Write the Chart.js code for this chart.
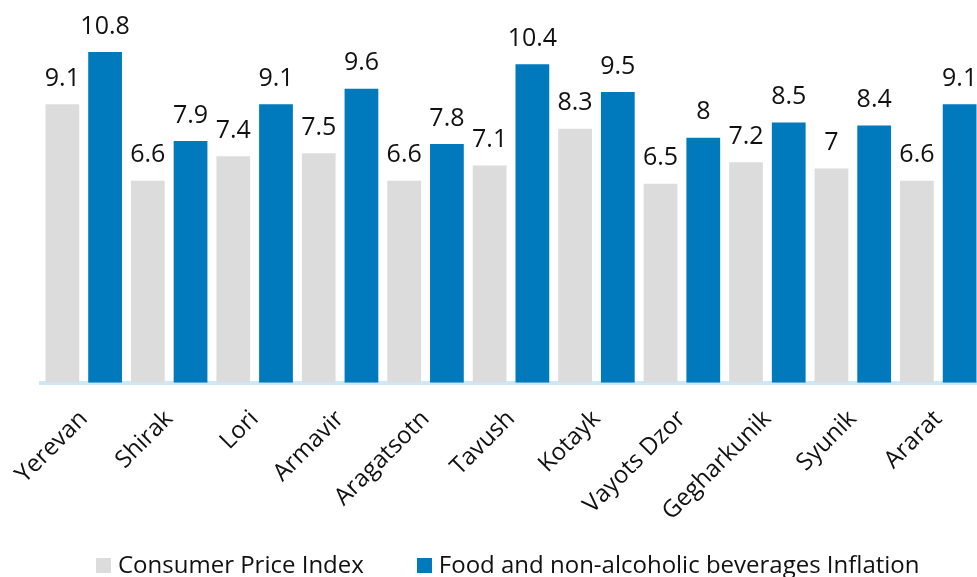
<!DOCTYPE html>
<html>
<head>
<meta charset="utf-8">
<script src="https://cdn.jsdelivr.net/npm/chart.js@4/dist/chart.umd.min.js"></script>
<style>
  html, body { margin: 0; padding: 0; overflow: hidden; background: #ffffff; }
  body { position: relative; width: 977px; height: 577px; }
  #wrap { position: absolute; left: 0; top: 0; width: 1012px; height: 548px; }
  #legenda {
    position: absolute; left: 96px; top: 552px;
    display: flex; align-items: flex-start;
    font: 24px/24px "Open Sans", "DejaVu Sans", sans-serif; color: #111111;
    white-space: nowrap;
  }
  .item { display: flex; align-items: flex-start; margin-right: 53px; }
  .caixa { width: 15px; height: 15px; margin-top: 6px; margin-right: 7px; }
</style>
</head>
<body>
<div id="wrap"><canvas id="grafico"></canvas></div>
<div id="legenda"></div>
<script>
const regioes = ['Yerevan', 'Shirak', 'Lori', 'Armavir', 'Aragatsotn', 'Tavush', 'Kotayk', 'Vayots Dzor', 'Gegharkunik', 'Syunik', 'Ararat'];
const indicePrecos = [9.1, 6.6, 7.4, 7.5, 6.6, 7.1, 8.3, 6.5, 7.2, 7, 6.6];
const inflacaoAlimentos = [10.8, 7.9, 9.1, 9.6, 7.8, 10.4, 9.5, 8, 8.5, 8.4, 9.1];

const fonte = '"Open Sans", "DejaVu Sans", sans-serif';

// desenha o valor acima de cada barra
const rotulosValores = {
  id: 'rotulosValores',
  afterDatasetsDraw(chart) {
    const ctx = chart.ctx;
    ctx.save();
    ctx.font = `25px ${fonte}`;
    ctx.fillStyle = '#111111';
    ctx.textAlign = 'center';
    ctx.textBaseline = 'bottom';
    chart.data.datasets.forEach((dataset, i) => {
      chart.getDatasetMeta(i).data.forEach((barra, j) => {
        ctx.fillText(String(dataset.data[j]), barra.x, barra.y - 13);
      });
    });
    ctx.restore();
  },
};

function montarLegenda(chart) {
  const legenda = document.querySelector('#legenda');
  legenda.innerHTML = '';
  chart.data.datasets.forEach((dataset) => {
    const item = document.createElement('div');
    item.className = 'item';
    const caixa = document.createElement('span');
    caixa.className = 'caixa';
    caixa.style.background = dataset.backgroundColor;
    const texto = document.createElement('span');
    texto.textContent = dataset.label;
    item.appendChild(caixa);
    item.appendChild(texto);
    legenda.appendChild(item);
  });
}

const grafico = new Chart(document.querySelector('#grafico'), {
  type: 'bar',
  data: {
    labels: regioes,
    datasets: [
      {
        label: 'Consumer Price Index',
        data: indicePrecos,
        backgroundColor: '#dcdcdc',
        categoryPercentage: 1,
        barPercentage: 0.79,
      },
      {
        label: 'Food and non-alcoholic beverages Inflation',
        data: inflacaoAlimentos,
        backgroundColor: '#0079bd',
        categoryPercentage: 1,
        barPercentage: 0.79,
      },
    ],
  },
  options: {
    responsive: true,
    maintainAspectRatio: false,
    animation: false,
    layout: {
      padding: { left: 41, right: 31, top: 0, bottom: 0 },
    },
    scales: {
      x: {
        grid: { display: false, drawTicks: false },
        border: { color: '#cfe8f7', width: 4 },
        ticks: {
          color: '#111111',
          font: { family: fonte, size: 24 },
          minRotation: 45,
          maxRotation: 45,
          padding: 22,
        },
        // o rótulo inclinado não deve empurrar a área do gráfico
        afterFit: (escala) => {
          escala.paddingLeft = 0;
          escala.paddingRight = 0;
        },
      },
      y: {
        display: false,
        min: 0,
        max: 12.5,
      },
    },
    plugins: {
      tooltip: { enabled: false },
      legend: { display: false },
    },
  },
  plugins: [rotulosValores],
});

montarLegenda(grafico);
</script>
</body>
</html>
